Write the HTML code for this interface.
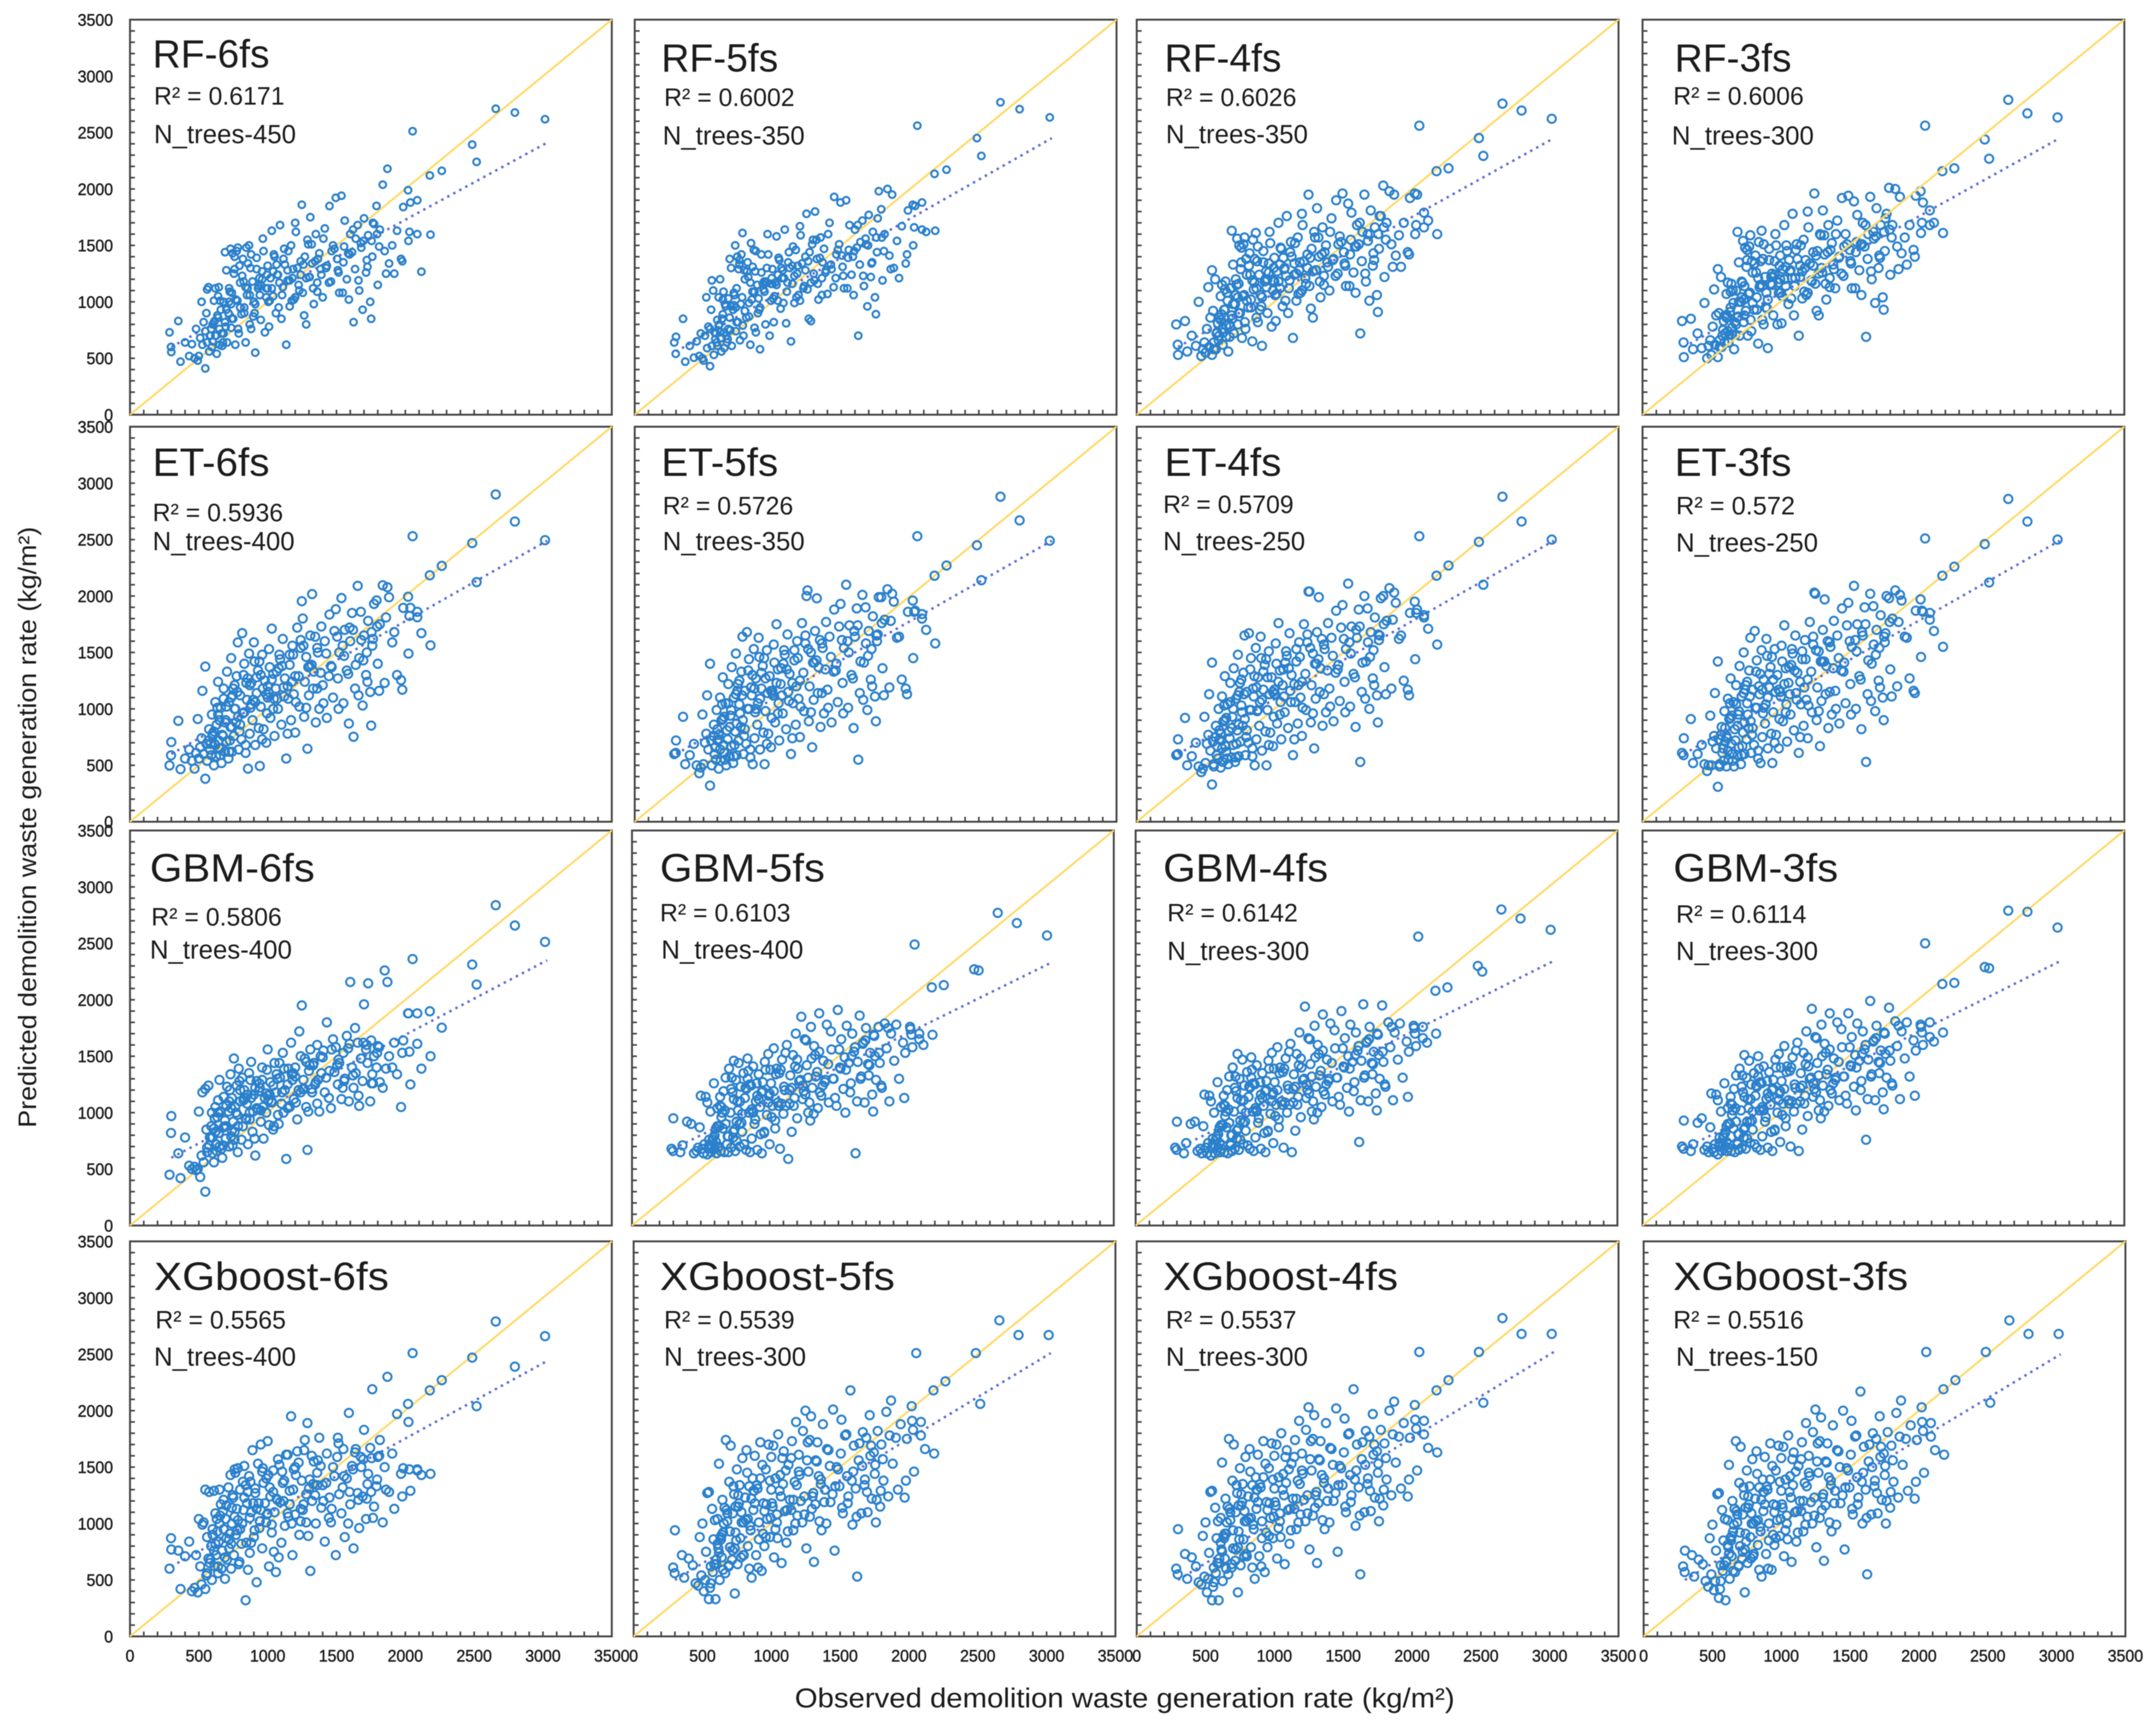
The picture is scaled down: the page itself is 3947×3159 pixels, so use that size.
<!DOCTYPE html>
<html lang="en">
<head>
<meta charset="utf-8">
<title>Observed vs predicted demolition waste generation rate</title>
<style>
html,body{margin:0;padding:0;background:#fff;}
body{width:3947px;height:3159px;overflow:hidden;}
#chart{display:block;filter:blur(0.9px);}
text{font-family:"Liberation Sans",sans-serif;fill:#1c1c1c;}
</style>
</head>
<body>
<svg id="chart" xmlns="http://www.w3.org/2000/svg" width="3947" height="3159" viewBox="0 0 3947 3159">
  <rect x="0" y="0" width="3947" height="3159" fill="#fff"/>
  <text x="1455" y="3125" font-size="50" textLength="1208" lengthAdjust="spacingAndGlyphs">Observed demolition waste generation rate (kg/m²)</text>
  <text transform="translate(66,2064) rotate(-90)" font-size="46" textLength="1100" lengthAdjust="spacingAndGlyphs">Predicted demolition waste generation rate (kg/m²)</text>
</svg>
<script>
const panelNames = ['RF-6fs','RF-5fs','RF-4fs','RF-3fs','ET-6fs','ET-5fs','ET-4fs','ET-3fs','GBM-6fs','GBM-5fs','GBM-4fs','GBM-3fs','XGboost-6fs','XGboost-5fs','XGboost-4fs','XGboost-3fs'];
const r2Values = ['0.6171','0.6002','0.6026','0.6006','0.5936','0.5726','0.5709','0.572','0.5806','0.6103','0.6142','0.6114','0.5565','0.5539','0.5537','0.5516'];
const treeCounts = [450,350,350,300,400,350,250,250,400,400,300,300,400,300,300,150];
const tickValues = [0,500,1000,1500,2000,2500,3000,3500];
const trendFrom = [600,560,600,600,600,600,600,600,600,680,680,680,620,500,500,500];
const trendTo = [2410,2450,2450,2450,2490,2490,2490,2490,2350,2320,2340,2340,2440,2510,2520,2500];

const observed = [2657,2796,3015,2486,2518,2053,2265,2178,
287,298,300,351,367,400,430,450,469,480,
492,500,510,520,526,535,547,547,555,560,
570,575,580,590,595,600,610,615,620,625,
630,640,645,650,660,665,670,680,690,695,
700,705,715,720,730,735,740,750,755,760,
770,775,783,790,800,810,815,820,830,840,
850,857,865,870,880,890,900,910,920,930,
943,950,960,970,980,990,1000,1010,1020,1030,
1040,1050,1060,1075,1090,1100,1110,1125,1135,1150,
1160,1170,1180,1190,1200,1215,1230,1248,1255,1270,
1280,1289,1300,1310,1323,1335,1350,1360,1375,1390,
1400,1415,1430,1449,1460,1475,1495,1510,1520,1536,
1550,1560,1575,1590,1600,1613,1624,1635,1654,1665,
1677,1690,1700,1715,1730,1745,1752,1760,1773,1791,
1800,1815,1836,1850,1870,1882,1905,1920,1940,1969,
1978,1985,2020,2023,2030,2037,2087,2087,2117,2183,
560,620,655,690,725,745,765,795,825,845,
875,905,935,965,995,1015,1045,1085,1115,1145,
1175,1205,1240,1265,1295,1330,1365,1405,1445,1485,
1515,1545,1585,1620,1660,1695,1725,1765,1810,1860,
600,640,680,720,760,800,840,880,920,960,
1000,1040,1080,1120,1160,1200,1240,1280,1320,1360,
610,650,700,740,780,830,870,910,950,990,
1030,1070,1105,1145,1185,1225,1260,1305,1345,1385,
1425,1465,1505,1555,1595,1640,1680,1720,1755,1795,
585,635,675,735,785,855,895,940,1005,1065];

const predRF6 = [2711,2677,2618,2393,2240,2512,2161,2120,
730,600,555,830,470,640,520,625,500,760,
480,520,680,1000,620,820,410,740,900,1110,
1130,560,700,760,600,650,1010,830,1120,700,
540,860,1130,620,930,720,610,1000,1440,780,
1280,640,900,1120,1470,770,1080,850,1250,1400,
1020,1450,1480,720,1170,890,1230,1380,950,640,
1060,1340,1500,800,1420,1180,1000,550,1290,1120,
1060,840,1270,1450,730,1120,1320,780,1210,1630,
1050,1400,900,1240,1680,850,1130,1330,620,1450,
960,1500,1210,1020,1700,1300,1100,1860,1080,1400,
800,1550,1220,1750,1340,980,1600,1170,1430,1240,
1040,1650,1320,1849,1180,1500,1922,1280,1080,1940,
1350,1720,1200,1020,1600,1440,820,1290,1680,1100,
1520,930,1740,1260,1590,1000,850,1400,1690,1850,
1150,1640,2038,1450,2179,1340,1500,1250,1630,1380,
1360,1840,1989,1540,1620,1880,1600,1900,1267,1595,
640,700,1010,820,1090,1430,620,1320,1180,1480,
1300,900,1140,1560,1240,1010,1420,1170,1380,1280,
1010,1620,1240,880,1510,1120,1380,1560,1170,1470,
1260,1080,1430,1640,1190,1540,1310,1700,1490,1250,
800,1050,720,1000,1290,950,1130,760,1390,1200,
1120,1270,950,1470,1190,1040,1360,1210,1510,1090,
820,760,930,850,1010,900,1060,980,1150,1040,
1120,1240,1060,1190,1290,1150,1330,1220,1360,1290,
1300,1450,1380,1490,1420,1560,1480,1370,1540,1600,
700,880,640,980,760,1120,870,1210,1000,1330];

const predRF5 = [2768,2707,2634,2451,2293,2561,2171,2134,
640,540,690,850,470,610,505,650,520,720,
500,480,700,1040,590,780,430,760,930,1190,
1100,530,730,720,640,610,1040,800,1200,680,
560,890,1090,590,960,700,640,1030,1380,750,
1300,610,930,1080,1500,740,1120,820,1290,1370,
980,1420,1610,700,1200,860,1270,1350,990,620,
1020,1310,1460,770,1450,1150,1030,580,1260,1160,
1090,800,1300,1420,700,1160,1290,820,1170,1580,
1010,1370,940,1280,1640,810,1170,1300,650,1490,
990,1460,1250,1060,1670,1340,1140,1780,1110,1440,
830,1510,1250,1800,1380,1020,1570,1210,1470,1280,
1070,1700,1290,1930,1210,1460,1880,1310,1120,1900,
1390,1680,1240,1060,1640,1480,700,1330,1720,1140,
1560,960,1770,1220,1620,1040,890,1440,1980,1820,
1190,1600,2000,1410,1950,1300,1540,1210,1670,1340,
1420,1810,1860,1500,1660,1850,1640,1880,1620,1630,
610,730,980,860,1060,1400,660,1280,1220,1520,
1270,930,1110,1600,1210,1050,1390,1210,1350,1320,
1040,1590,1280,850,1550,1160,1350,1600,1130,1510,
1230,1120,1400,1680,1230,1500,1350,1740,1450,1290,
840,1020,760,970,1330,920,1170,730,1420,1170,
1160,1240,990,1440,1230,1010,1400,1170,1550,1060,
790,730,960,820,1040,870,1090,950,1180,1010,
1150,1210,1090,1160,1320,1120,1360,1190,1390,1260,
1330,1420,1410,1460,1450,1530,1510,1340,1570,1570,
670,850,670,950,790,1090,900,1180,1030,1300];

const predRF4 = [2756,2695,2622,2451,2293,2561,2183,2158,
800,620,530,830,560,700,610,1000,520,580,
640,550,760,1130,600,860,530,1280,920,640,
1200,580,720,810,660,700,1050,890,1150,620,
730,930,1180,690,1010,560,800,1120,1630,850,
1330,720,980,1200,1560,800,1160,900,1290,1480,
1050,1510,1570,760,1240,950,1320,1430,1020,650,
1110,1380,1610,860,1490,1240,1060,610,1350,1180,
1130,900,1340,1520,780,1190,1390,830,1270,1700,
1120,1470,960,1300,1760,900,1190,1400,680,1520,
1010,1570,1280,1080,1780,1360,1160,1950,1140,1470,
860,1620,1280,1830,1400,1040,1660,1230,1500,1310,
1100,1740,1380,1900,1250,1580,1960,1340,1140,1870,
1420,1790,1260,1080,1680,1510,720,1360,1950,1180,
1600,1010,1810,1320,1660,1060,910,1470,1760,2030,
1220,1700,1980,1510,1950,1410,1590,1310,1700,1440,
1420,1920,1960,1600,1680,1950,1660,1790,1720,1600,
580,760,1080,880,1150,1500,680,1380,1240,1550,
1360,960,1200,1620,1300,1070,1480,1230,1440,1340,
1070,1680,1300,940,1570,1180,1440,1620,1230,1530,
1320,1140,1490,1700,1250,1600,1370,1760,1550,1310,
860,1110,780,1060,1350,1010,1190,820,1450,1260,
1180,1330,1010,1530,1250,1100,1420,1270,1570,1150,
840,790,980,900,1060,950,1120,1040,1200,1100,
1180,1290,1120,1240,1350,1210,1390,1280,1420,1350,
1370,1510,1440,1550,1490,1620,1540,1430,1600,1660,
730,930,690,1040,820,1170,930,1270,1060,1390];

const predRF3 = [2790,2670,2634,2439,2268,2561,2183,2158,
830,640,510,850,580,720,590,990,500,610,
660,530,780,1110,620,880,510,1290,900,660,
1220,600,700,830,640,720,1070,870,1170,640,
710,950,1160,710,990,580,820,1100,1620,870,
1350,700,1000,1180,1540,820,1140,920,1310,1460,
1070,1490,1590,740,1260,930,1340,1410,1040,630,
1130,1360,1630,840,1510,1220,1080,590,1370,1160,
1150,880,1360,1500,800,1170,1410,810,1290,1680,
1140,1450,980,1280,1780,880,1210,1380,700,1500,
1030,1550,1300,1060,1800,1340,1180,1960,1160,1450,
880,1600,1300,1810,1420,1020,1680,1210,1520,1290,
1120,1720,1400,1920,1230,1600,1940,1360,1120,1890,
1440,1770,1280,1060,1700,1490,690,1380,1930,1200,
1620,990,1830,1300,1680,1040,930,1450,1780,2010,
1240,1680,2000,1490,1930,1430,1570,1330,1680,1460,
1400,1940,1980,1610,1700,1880,1680,1810,1700,1610,
600,740,1100,860,1170,1480,700,1360,1260,1530,
1380,940,1220,1600,1320,1050,1500,1210,1460,1320,
1090,1660,1320,920,1590,1160,1460,1600,1250,1510,
1340,1120,1510,1680,1270,1580,1390,1740,1570,1290,
880,1090,800,1040,1370,990,1210,800,1470,1240,
1200,1310,1030,1510,1270,1080,1440,1250,1590,1130,
860,770,1000,880,1080,930,1140,1020,1220,1080,
1200,1270,1140,1220,1370,1190,1410,1260,1440,1330,
1390,1490,1460,1530,1510,1600,1560,1410,1620,1640,
750,910,710,1020,840,1150,950,1250,1080,1370];

const predET6 = [2900,2660,2495,2469,2123,2530,2267,2184,
499,588,706,894,466,560,640,540,470,610,
910,560,660,740,1160,600,381,1375,690,540,
720,820,640,590,950,780,500,690,1060,580,
860,1240,720,650,1010,520,770,1180,620,900,
710,1330,560,1060,840,1450,620,1180,760,1000,
880,1290,1589,640,1120,730,1671,960,1400,610,
1080,470,1490,780,1230,900,1590,680,1140,1340,
494,1020,1480,820,1250,700,1100,1530,920,1711,
1310,760,1180,1000,1440,860,1620,1270,560,1090,
1390,900,1560,1130,790,1720,1020,1954,1801,1240,
1460,647,1120,1650,2017,1330,880,1540,1000,1730,
1210,1600,920,1836,1380,1100,1883,1270,1500,1982,
1050,1700,1340,870,1600,1850,753,1180,2090,1450,
1860,1030,1650,1300,1780,1150,852,1560,1930,1961,
1400,1750,2095,1230,2078,1989,1589,1680,1300,1255,
1170,1895,1994,1490,1824,1895,1812,1860,1671,1563,
540,680,590,880,720,1120,1000,800,1300,1230,
1010,1420,830,1180,960,1370,1090,1480,1190,780,
1240,1060,1610,930,1370,1180,1500,1050,1290,1690,
1000,1560,1310,1700,1120,1430,1240,1620,1160,1810,
760,950,1090,620,1210,860,680,1040,1280,730,
1200,1000,1360,1110,1480,1290,1540,1010,1390,1180,
800,900,1020,840,1150,970,1210,1060,1300,1130,
1260,1090,1380,1200,1480,1290,1560,1380,1640,1320,
1490,1370,1640,1470,1720,1390,1610,1500,1680,1730,
690,1010,760,1100,930,1270,1080,1420,1150,1330];

const predET5 = [2880,2670,2490,2450,2140,2530,2270,2180,
600,610,720,930,510,590,690,500,430,480,
950,510,700,780,1120,640,320,1400,720,500,
760,860,600,550,990,820,470,730,1100,540,
900,1280,680,610,1050,500,810,1220,580,940,
670,1370,520,1100,800,1490,590,1220,720,1040,
840,1330,1640,600,1160,690,1680,1000,1440,570,
1120,510,1530,740,1270,860,1630,640,1180,1380,
510,980,1520,780,1290,660,1140,1570,880,1750,
1350,720,1220,960,1480,820,1660,1310,600,1050,
1430,860,1600,1090,750,1760,980,2000,2050,1200,
1500,660,1080,1690,1980,1370,840,1580,960,1770,
1170,1640,880,1880,1340,1060,1930,1230,1540,2100,
1010,1740,1300,830,1640,1890,550,1140,2010,1410,
1900,990,1690,1260,1820,1110,890,1600,1990,1990,
1360,1790,2060,1190,2020,1950,1630,1640,1260,1180,
1130,1860,1960,1450,1860,1870,1840,1800,1700,1580,
500,640,550,840,680,1160,960,760,1340,1190,
970,1460,790,1140,920,1410,1050,1520,1150,740,
1200,1020,1650,890,1410,1140,1540,1010,1330,1730,
960,1600,1270,1740,1080,1470,1200,1660,1120,1780,
720,910,1050,580,1250,820,640,1000,1320,690,
1160,960,1400,1070,1520,1250,1580,970,1430,1140,
770,930,990,870,1120,1000,1180,1090,1270,1160,
1230,1120,1350,1230,1450,1320,1530,1410,1610,1350,
1460,1400,1610,1500,1690,1420,1580,1530,1650,1760,
660,1040,730,1130,900,1300,1050,1450,1120,1360];

const predET4 = [2880,2660,2500,2480,2100,2530,2270,2180,
590,600,730,920,500,580,700,490,440,470,
930,520,690,770,1130,630,330,1410,710,490,
750,850,590,560,1000,810,480,720,1110,530,
890,1290,670,620,1040,510,800,1230,570,930,
680,1360,530,1090,810,1480,580,1230,710,1030,
850,1320,1650,590,1150,700,1670,990,1450,580,
1110,500,1540,730,1280,850,1640,630,1170,1390,
500,990,1510,790,1280,670,1130,1580,870,1760,
1340,730,1210,970,1470,830,1670,1300,590,1060,
1420,870,1590,1100,760,1750,990,2040,2040,1210,
1490,650,1090,1680,1990,1360,850,1570,970,1760,
1180,1630,890,1870,1350,1070,1920,1240,1530,2110,
1020,1730,1310,840,1630,1880,530,1150,2000,1420,
1890,1000,1680,1270,1810,1120,880,1610,1980,2000,
1370,1780,2070,1180,2030,1940,1620,1650,1250,1170,
1120,1850,1950,1440,1850,1880,1830,1810,1710,1570,
510,650,560,830,690,1150,970,750,1350,1180,
980,1450,800,1130,930,1400,1060,1510,1160,730,
1210,1010,1660,880,1400,1150,1530,1020,1320,1720,
970,1590,1280,1730,1090,1460,1210,1650,1130,1790,
730,900,1060,570,1260,810,650,990,1330,680,
1170,950,1410,1060,1530,1240,1590,960,1440,1130,
780,920,1000,860,1130,990,1190,1080,1280,1150,
1240,1110,1360,1220,1460,1310,1540,1400,1620,1340,
1470,1390,1620,1490,1700,1410,1590,1520,1660,1750,
670,1030,740,1120,910,1290,1060,1440,1130,1350];

const predET3 = [2860,2660,2500,2460,2120,2510,2260,2180,
610,590,740,910,520,600,680,510,450,500,
940,500,710,760,1140,650,310,1420,730,510,
770,840,610,540,980,830,490,740,1090,550,
910,1270,690,600,1060,490,820,1210,590,950,
660,1380,510,1110,790,1500,600,1210,730,1050,
830,1340,1630,610,1170,680,1690,1010,1430,560,
1130,520,1520,750,1260,870,1620,650,1190,1370,
520,970,1530,770,1300,650,1150,1560,890,1740,
1360,710,1230,950,1490,810,1650,1320,610,1040,
1440,850,1610,1080,740,1770,970,2030,2020,1190,
1510,670,1070,1700,1970,1380,830,1590,950,1780,
1160,1650,870,1890,1330,1050,1940,1220,1550,2090,
1000,1750,1290,820,1650,1900,530,1130,2020,1400,
1910,980,1700,1250,1830,1100,900,1590,2000,1980,
1350,1800,2050,1200,2010,1960,1640,1630,1270,1160,
1140,1870,1970,1460,1870,1860,1850,1790,1690,1550,
490,630,540,850,670,1170,950,770,1330,1200,
960,1470,780,1150,910,1420,1040,1530,1140,750,
1190,1030,1640,900,1420,1130,1550,1000,1340,1740,
950,1610,1260,1750,1070,1480,1190,1670,1110,1770,
710,920,1040,590,1240,830,630,1010,1310,700,
1150,970,1390,1080,1510,1260,1570,980,1420,1150,
760,940,980,880,1110,1010,1170,1100,1260,1170,
1220,1130,1340,1240,1440,1330,1520,1420,1600,1360,
1450,1410,1600,1510,1680,1430,1570,1540,1640,1770,
650,1050,720,1140,890,1310,1040,1460,1110,1370];

const predGBM6 = [2838,2658,2513,2312,2135,2361,1753,1898,
450,820,970,640,420,780,530,500,520,490,
500,1010,430,620,1180,560,300,1210,850,650,
1240,710,780,880,1000,640,560,950,1050,720,
660,1110,820,1290,1010,680,600,1140,930,770,
880,1230,1010,700,1340,790,1130,920,1480,830,
1000,1240,650,1390,1100,760,1310,880,1200,950,
1080,720,1350,1000,1450,830,1160,620,1280,1030,
1220,920,1400,770,1130,1000,1560,890,1270,1100,
850,1440,1180,980,1310,1080,1530,1200,590,1390,
1050,1620,1290,1120,1400,940,1720,1950,1210,1480,
1050,670,1370,1560,1180,1440,1270,1600,1010,1350,
1490,1180,1800,1370,1040,1650,1580,1250,1440,1120,
1530,1300,1680,1100,2158,1400,1220,1750,1620,1060,
1480,1280,1960,1560,2146,1100,1640,1340,1500,1400,
1590,1270,1220,2260,2158,1500,1400,1620,1340,1050,
1530,1640,1880,1880,1540,1250,1610,1880,1390,1500,
690,830,1010,880,1200,710,1050,1280,1110,940,
1290,770,1190,1050,1380,1160,880,1440,1000,1250,
1340,1090,1500,1210,1010,1420,1290,1550,1130,1360,
1470,1220,1570,1330,1150,1620,1440,1260,1580,1390,
780,1000,870,1100,760,1200,950,1130,1040,1290,
1150,1240,900,1390,1060,1320,1180,1450,1210,1080,
860,700,1060,840,980,1130,940,1220,1020,1170,
1090,1300,1180,1040,1350,1200,1290,1420,1250,1500,
1310,1560,1420,1280,1610,1350,1480,1600,1260,1530,
780,960,710,1040,880,1160,1010,1260,1110,1340];

const predGBM5 = [2770,2680,2570,2270,2260,2490,2130,2110,
680,660,950,650,710,920,900,640,660,690,
870,1150,680,640,720,1140,630,1090,680,760,
1010,650,690,780,1260,680,740,640,1040,690,
700,1140,660,1050,860,1190,650,1310,720,790,
650,1390,1000,690,1180,780,1460,660,1290,920,
1020,1440,700,1230,830,1350,720,1130,670,1480,
1000,650,1240,770,1410,900,1100,670,1340,1050,
640,1190,820,1380,980,1520,720,1260,1060,1570,
860,1390,1090,680,1470,990,1200,1600,590,1330,
830,1510,1130,1700,950,1280,1850,1190,1650,1420,
1000,1090,1760,1220,1590,1320,1040,1880,1150,1460,
1270,1780,1090,1560,1300,1130,1910,1400,1650,1210,
1000,1770,1440,1260,1700,1540,640,1100,1860,1320,
1610,1090,1750,1430,1530,1160,1010,1680,1290,1760,
1440,1220,1790,1570,1100,1700,1460,1780,1300,1620,
1130,1530,1760,1740,1690,1580,1700,1650,1600,1690,
710,880,1000,720,1310,850,1100,910,1220,1370,
1010,1260,810,1450,1150,960,1340,1080,1530,1200,
1060,1390,1240,1640,930,1510,1180,1290,1720,1060,
1390,1490,1180,1580,1300,1640,1420,1500,1240,1750,
800,1060,900,1210,750,990,1300,1000,1120,830,
1170,930,1380,1060,1220,1470,1120,1310,990,1540,
860,960,790,1120,900,1210,1030,1150,1270,1090,
1190,1350,1230,1080,1410,1290,1160,1480,1360,1240,
1430,1300,1560,1380,1500,1450,1620,1330,1690,1530,
760,880,1020,830,1100,1250,940,1180,1380,1060];

const predGBM4 = [2800,2720,2620,2300,2250,2560,2110,2080,
690,670,920,640,730,900,920,660,680,640,
880,1160,690,640,730,1150,620,1100,690,770,
1000,640,700,790,1270,690,730,650,1050,680,
710,1150,650,1060,870,1200,640,1320,710,800,
660,1400,1010,680,1190,770,1520,670,1300,930,
1030,1470,720,1240,840,1360,710,1140,680,1490,
1010,660,1250,780,1420,910,1110,680,1350,1060,
650,1200,830,1390,990,1530,730,1270,1070,1580,
870,1400,1100,690,1480,1000,1210,1610,650,1340,
840,1520,1140,1710,960,1290,1940,1200,1660,1430,
1010,1100,1770,1230,1600,1330,1050,1870,1160,1470,
1280,1790,1100,1570,1310,1140,1900,1410,1660,1220,
1010,1780,1450,1270,1710,1550,740,1110,1960,1330,
1620,1100,1760,1440,1540,1170,1020,1690,1300,1950,
1450,1230,1800,1580,1110,1710,1470,1790,1310,1630,
1140,1540,1770,1750,1700,1590,1760,1660,1620,1700,
720,890,1010,730,1320,860,1110,920,1230,1380,
1020,1270,820,1460,1160,970,1350,1090,1540,1210,
1070,1400,1250,1650,940,1520,1190,1300,1730,1070,
1400,1500,1190,1590,1310,1650,1430,1510,1250,1760,
810,1070,910,1220,760,1000,1310,1010,1130,840,
1180,940,1390,1070,1230,1480,1130,1320,1000,1550,
870,970,800,1130,910,1220,1040,1160,1280,1100,
1200,1360,1240,1090,1420,1300,1170,1490,1370,1250,
1440,1310,1570,1390,1510,1460,1630,1340,1700,1540,
770,890,1030,840,1110,1260,950,1190,1390,1070];

const predGBM3 = [2790,2780,2640,2290,2280,2500,2150,2140,
700,680,930,660,720,910,950,670,700,650,
870,1170,680,650,720,1160,630,1110,700,780,
1010,660,710,800,1260,700,740,660,1040,690,
720,1140,660,1070,860,1210,650,1330,720,810,
670,1390,1020,690,1180,780,1510,680,1310,920,
1040,1460,730,1250,850,1350,720,1150,690,1500,
1020,670,1260,790,1410,920,1120,690,1360,1070,
660,1210,840,1400,1000,1520,740,1280,1080,1590,
880,1410,1110,700,1490,1010,1220,1620,660,1350,
850,1530,1150,1720,970,1300,1920,1210,1670,1440,
1020,1110,1780,1240,1610,1340,1060,1880,1170,1480,
1290,1800,1110,1580,1320,1150,1880,1420,1670,1230,
1020,1790,1460,1280,1720,1560,760,1120,1990,1340,
1630,1110,1770,1450,1550,1180,1030,1700,1310,1930,
1460,1240,1810,1590,1120,1720,1480,1800,1320,1640,
1150,1550,1780,1760,1710,1600,1800,1670,1630,1710,
730,900,1020,740,1330,870,1120,930,1240,1390,
1030,1280,830,1470,1170,980,1360,1100,1550,1220,
1080,1410,1260,1660,950,1530,1200,1310,1740,1080,
1410,1510,1200,1600,1320,1660,1440,1520,1260,1770,
820,1080,920,1230,770,1010,1320,1020,1140,850,
1190,950,1400,1080,1240,1490,1140,1330,1010,1560,
880,980,810,1140,920,1230,1050,1170,1290,1110,
1210,1370,1250,1100,1430,1310,1180,1500,1380,1260,
1450,1320,1580,1400,1520,1470,1640,1350,1710,1550,
780,900,1040,850,1120,1270,960,1200,1400,1080];

const predXG6 = [2790,2390,2660,2470,2040,2510,2270,2180,
600,870,770,760,420,710,840,400,430,720,
390,1040,620,460,990,1010,420,1300,540,880,
690,1280,650,800,500,950,1290,620,1090,720,
1040,560,840,1300,1170,600,760,950,510,1040,
1160,680,1320,860,1430,600,1000,1230,720,1480,
900,1130,1490,640,1300,820,1000,1370,1510,320,
1180,590,1420,740,1100,1650,880,1270,480,1530,
1020,1700,780,1360,1180,1010,1730,620,1240,920,
1470,1100,570,1570,1190,830,1360,980,1610,1060,
1290,1950,720,1480,1080,1640,900,1380,1120,1740,
1010,1890,1310,580,1200,1550,1000,1450,1760,1140,
1340,840,1620,1230,1010,1500,720,1760,1260,1090,
1660,880,1400,1980,1170,1510,780,1630,1270,960,
1590,1240,1830,1040,1440,1670,1280,2190,1150,1330,
1590,1740,1010,1500,2300,1280,1620,1130,1970,1440,
1240,1490,2060,1900,1480,1290,1480,1470,1430,1440,
560,820,1070,700,910,1250,1450,660,1120,830,
1370,940,1180,1490,1080,1320,750,1520,1200,1610,
1000,1430,1130,1650,890,1350,1560,1200,1050,1420,
1710,1320,1000,1480,1210,1570,1350,1050,1600,1300,
900,620,1210,780,1060,950,1340,830,1130,1460,
1090,1280,700,1380,1170,1500,1020,1260,1600,1340,
760,1000,870,1140,940,1230,1050,1310,1120,1400,
990,1210,1460,1090,1300,1540,1170,1390,1250,1510,
1360,1130,1590,1420,1280,1660,1500,1220,1580,1390,
680,930,1110,820,1030,1280,1180,960,1430,1220];

const predXG5 = [2800,2670,2670,2510,2060,2510,2260,2180,
610,560,940,720,520,690,630,470,450,880,
540,1000,400,500,750,1270,330,1280,430,620,
1130,570,860,1030,330,640,1040,780,1530,500,
880,700,1210,920,1140,560,1740,1020,620,1370,
790,1690,680,1090,1260,380,920,1480,640,1150,
1340,870,1100,1580,720,1230,1030,1650,800,1330,
940,520,1400,1120,1600,720,1310,1010,1720,580,
1180,800,1480,1040,1700,880,1590,1150,700,1400,
1010,1790,1290,650,1640,1110,830,1520,1210,1730,
940,1370,1900,1070,1610,1200,1820,2000,780,1460,
1060,1950,1240,660,1560,1720,1020,1390,1880,1300,
1000,1650,1190,2010,760,1500,1330,1920,1090,1780,
1420,1240,2180,990,1690,1310,530,1560,1090,1810,
1340,1760,1100,1960,1220,1630,1440,1010,1820,1150,
1700,1380,1990,1240,2090,1530,1760,1300,1880,1230,
1380,1750,2040,1910,1830,1460,1780,1900,1660,1620,
470,740,1000,630,1330,850,1180,720,1450,980,
1290,610,1520,1170,1050,1690,870,1350,1120,1580,
1000,1430,1240,1720,1130,1550,940,1660,1260,1480,
1140,1790,1380,1060,1510,1280,1690,1210,1570,1780,
680,900,1090,760,1250,1010,600,1180,1400,880,
1300,1080,1580,930,1210,1460,1080,1740,1170,1350,
820,590,930,1150,700,1040,1290,860,1110,1380,
950,1240,1470,1120,1340,1010,1560,1270,1420,1190,
1510,1330,1620,1180,1460,1710,1390,1600,1520,1290,
640,860,1120,780,1010,1220,1340,910,1180,1430];

const predXG4 = [2820,2680,2680,2520,2070,2520,2270,2180,
600,550,950,730,510,700,620,480,460,890,
530,1010,390,510,740,1280,320,1290,440,610,
1140,560,870,1020,320,650,1050,770,1540,490,
890,690,1220,910,1150,550,1750,1030,610,1380,
780,1700,670,1100,1270,390,930,1490,630,1160,
1350,860,1110,1590,710,1240,1040,1660,790,1340,
950,510,1410,1130,1610,710,1320,1020,1730,570,
1190,790,1490,1050,1710,870,1600,1160,690,1410,
1020,1800,1300,640,1650,1120,820,1530,1220,1740,
950,1380,1910,1080,1620,1210,1830,2030,770,1470,
1070,1960,1250,650,1570,1730,1030,1400,1890,1310,
1010,1660,1200,2020,750,1510,1340,1930,1100,1790,
1430,1250,2190,980,1700,1320,550,1570,1100,1820,
1350,1770,1110,1970,1230,1640,1450,1020,1830,1160,
1710,1390,2000,1250,2080,1540,1770,1310,1890,1240,
1390,1760,2050,1920,1840,1470,1790,1910,1670,1630,
480,750,1010,640,1340,860,1190,730,1460,990,
1300,620,1530,1180,1060,1700,880,1360,1130,1590,
1010,1440,1250,1730,1140,1560,950,1670,1270,1490,
1150,1800,1390,1070,1520,1290,1700,1220,1580,1790,
690,910,1100,770,1260,1020,610,1190,1410,890,
1310,1090,1590,940,1220,1470,1090,1750,1180,1360,
830,600,940,1160,710,1050,1300,870,1120,1390,
960,1250,1480,1130,1350,1020,1570,1280,1430,1200,
1520,1340,1630,1190,1470,1720,1400,1610,1530,1300,
650,870,1130,790,1020,1230,1350,920,1190,1440];

const predXG3 = [2800,2680,2680,2520,2070,2520,2270,2190,
620,570,760,720,530,680,640,490,440,870,
550,990,410,490,760,1260,340,1270,420,630,
1120,580,850,1040,320,660,1030,790,1520,510,
870,710,1200,930,1130,570,1730,1010,630,1360,
800,1680,690,1080,1250,390,910,1470,650,1140,
1330,880,1090,1570,730,1220,1020,1640,810,1320,
930,530,1390,1110,1590,730,1300,1000,1710,590,
1170,810,1470,1030,1690,890,1580,1140,710,1390,
1000,1780,1280,660,1630,1100,840,1510,1200,1720,
930,1360,1890,1060,1600,1190,1810,2010,790,1450,
1050,1940,1230,670,1550,1710,1010,1380,1870,1290,
990,1640,1180,2000,770,1490,1320,1910,1080,1770,
1410,1230,2170,1000,1680,1300,550,1550,1080,1800,
1330,1750,1090,1950,1210,1620,1430,1000,1810,1140,
1690,1370,1980,1230,2090,1520,1750,1290,1870,1220,
1370,1740,2030,1900,1820,1450,1770,1890,1650,1610,
490,730,990,620,1320,840,1170,710,1440,970,
1280,600,1510,1160,1040,1680,860,1340,1110,1570,
990,1420,1230,1710,1120,1540,930,1650,1250,1470,
1130,1780,1370,1050,1500,1270,1680,1200,1560,1770,
670,890,1080,750,1240,1000,590,1170,1390,870,
1290,1070,1570,920,1200,1450,1070,1730,1160,1340,
810,580,920,1140,690,1030,1280,850,1100,1370,
940,1230,1460,1110,1330,1000,1550,1260,1410,1180,
1500,1320,1610,1170,1450,1700,1380,1590,1510,1280,
630,850,1110,770,1000,1210,1330,900,1170,1420];

const panelSeries = [predRF6,predRF5,predRF4,predRF3,predET6,predET5,predET4,predET3,predGBM6,predGBM5,predGBM4,predGBM3,predXG6,predXG5,predXG4,predXG3];

/* layout (pixels), kept separate from the chart data */
const axisMax = 3500;
const frameLeft = [[238,1162,2081,3007],[238,1162,2081,3007],[238,1157,2079,3007],[238,1160,2081,3009]];
const frameWidth = 882;
const frameTop = [36,781,1520,2272];
const frameHeight = 723;
const titleAt = [[111,49],[481,52],[847,52],[1218,52],[111,346],[481,346],[847,346],[1218,346],[109,641],[480,641],[846,641],[1217,641],[112,938],[480,938],[846,938],[1217,938]];
const r2At = [[112,76],[483,77],[848,77],[1217,76],[111,379],[482,374],[846,373],[1219,374],[110,673],[480,670],[849,670],[1219,671],[113,966],[483,966],[848,966],[1217,966]];
const treesAt = [[112,104],[482,105],[848,104],[1216,105],[111,400],[482,400],[846,400],[1219,401],[109,697],[481,697],[849,698],[1219,698],[112,993],[483,993],[848,993],[1219,993]];
const titleWidth = {RF:214,ET:214,GBM:302,XGboost:430};
const overviewScale = 2.517;

const SVG_NS = 'http://www.w3.org/2000/svg';
const root = document.getElementById('chart');

function make(tag, attrs, parent) {
  const el = document.createElementNS(SVG_NS, tag);
  for (const k in attrs) el.setAttribute(k, attrs[k]);
  parent.appendChild(el);
  return el;
}

function drawPanel(index) {
  const col = index % 4;
  const row = Math.floor(index / 4);
  const left = frameLeft[row][col];
  const top = frameTop[row];
  const bottom = top + frameHeight;
  const xAxis = v => left + v / axisMax * frameWidth;
  const yAxis = v => bottom - v / axisMax * frameHeight;
  const name = panelNames[index];
  const slug = name.toLowerCase();

  const g = make('g', {}, root);
  
  

  const frame = make('rect', {x:left, y:top, width:frameWidth, height:frameHeight, fill:'#fff', stroke:'#454545', 'stroke-width':3.5}, g);
  
  

  for (let t = 100; t < axisMax; t += 100) {
    const tx = make('line', {x1:xAxis(t), x2:xAxis(t), y1:bottom, y2:bottom - 9, stroke:'#454545', 'stroke-width':3}, g);
    
    
    const ty = make('line', {x1:left, x2:left + 9, y1:yAxis(t), y2:yAxis(t), stroke:'#454545', 'stroke-width':3}, g);
    
    
  }

  const diagonal = make('line', {x1:xAxis(0), y1:yAxis(0), x2:xAxis(axisMax), y2:yAxis(axisMax), stroke:'#ffd966', 'stroke-width':3.6}, g);
  
  

  const trend = make('line', {x1:xAxis(300), y1:yAxis(trendFrom[index]), x2:xAxis(3030), y2:yAxis(trendTo[index]), stroke:'#5f6fd0', 'stroke-width':4.5, 'stroke-dasharray':'4.5 8'}, g);
  
  

  const small = index < 2;
  const ys = panelSeries[index];
  const count = Math.min(observed.length, ys.length);
  for (let i = 0; i < count; i++) {
    const pt = make('circle', {cx:xAxis(observed[i]), cy:yAxis(ys[i]), r:small ? 6.2 : 7.6, fill:'none', stroke:'#2b80cb', 'stroke-width':3.6}, g);
    
    
  }
  if (name === 'RF-3fs') g.appendChild(diagonal);

  const title = make('text', {x:titleAt[index][0] * overviewScale, y:titleAt[index][1] * overviewScale, 'font-size':72, textLength:titleWidth[name.split('-')[0]], lengthAdjust:'spacingAndGlyphs'}, g);
  title.textContent = name;
  
  

  const r2Label = 'R² = ' + r2Values[index];
  const r2 = make('text', {x:r2At[index][0] * overviewScale, y:r2At[index][1] * overviewScale, 'font-size':46, textLength:r2Label.length === 11 ? 239 : 218, lengthAdjust:'spacingAndGlyphs'}, g);
  r2.textContent = r2Label;
  
  

  const trees = make('text', {x:treesAt[index][0] * overviewScale, y:treesAt[index][1] * overviewScale, 'font-size':48, textLength:260, lengthAdjust:'spacingAndGlyphs'}, g);
  trees.textContent = 'N_trees-' + treeCounts[index];
  
  

  tickValues.forEach(v => {
    const label = String(v);
    const w = label.length * 16.2;
    if (col === 0) {
      const yl = make('text', {x:207, y:yAxis(v) + 11, 'font-size':31, 'text-anchor':'end', textLength:w, lengthAdjust:'spacingAndGlyphs', stroke:'#1c1c1c', 'stroke-width':0.7}, g);
      yl.textContent = label;
      
      
    }
    if (row === 3) {
      const xl = make('text', {x:xAxis(v), y:3041, 'font-size':31, 'text-anchor':'middle', textLength:w, lengthAdjust:'spacingAndGlyphs', stroke:'#1c1c1c', 'stroke-width':0.7}, g);
      xl.textContent = label;
      
      
    }
  });
}

panelNames.forEach((_, i) => drawPanel(i));
</script>
</body>
</html>
